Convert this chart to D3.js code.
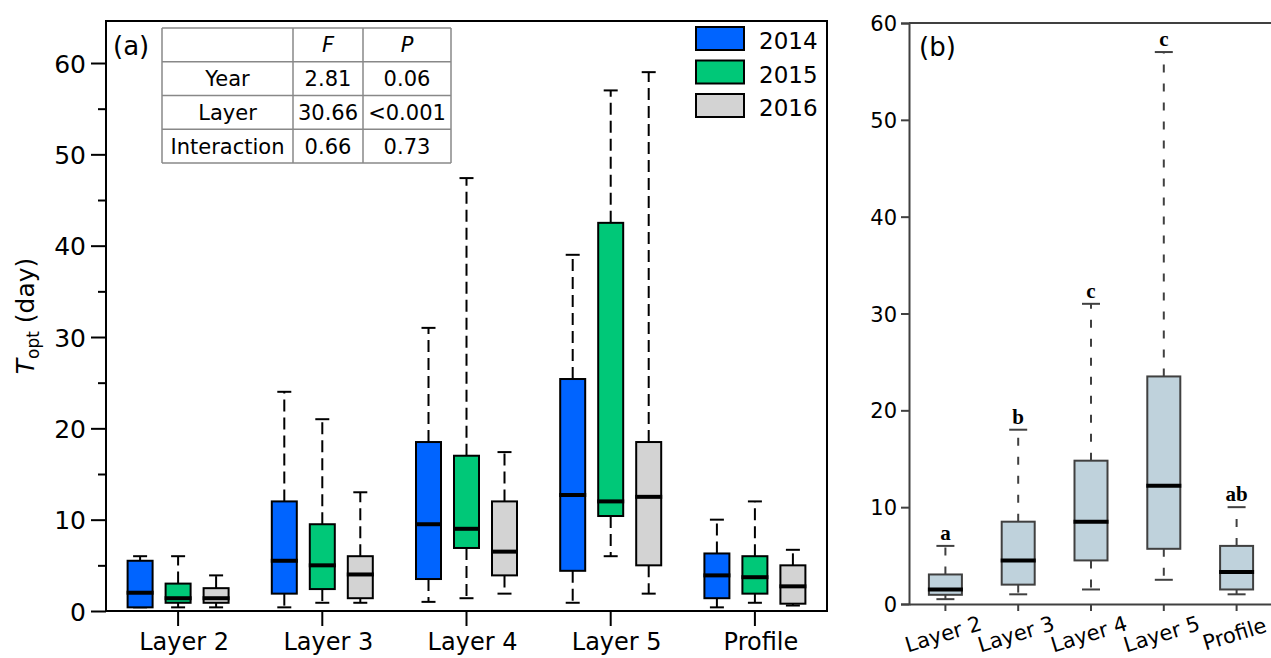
<!DOCTYPE html>
<html>
<head>
<meta charset="utf-8">
<script src="https://cdn.jsdelivr.net/npm/d3@7"></script>
<style>
  body { margin: 0; background: #fff; }
  svg text { font-family: "DejaVu Sans", sans-serif; fill: #000; }
</style>
</head>
<body>
<script>
// categories and groups
var categories = ["Layer 2", "Layer 3", "Layer 4", "Layer 5", "Profile"];
var years = ["2014", "2015", "2016"];
var yearColors = ["#0064ff", "#00c878", "#d3d3d3"];

// box stats per category: [lower whisker, q1, median, q3, upper whisker]
var stats2014 = [
  [0.4, 0.4, 2.0, 5.5, 6.0],
  [0.4, 1.9, 5.5, 12.0, 24.0],
  [1.0, 3.5, 9.5, 18.5, 31.0],
  [0.9, 4.4, 12.7, 25.4, 39.0],
  [0.4, 1.4, 3.9, 6.3, 10.0]
];
var stats2015 = [
  [0.4, 0.9, 1.4, 3.0, 6.0],
  [0.9, 2.4, 5.0, 9.5, 21.0],
  [1.4, 6.9, 9.0, 17.0, 47.4],
  [6.0, 10.4, 12.0, 42.5, 57.0],
  [0.9, 1.9, 3.7, 6.0, 12.0]
];
var stats2016 = [
  [0.4, 0.9, 1.4, 2.5, 3.9],
  [0.9, 1.4, 4.0, 6.0, 13.0],
  [1.9, 3.9, 6.5, 12.0, 17.4],
  [1.9, 5.0, 12.5, 18.5, 59.0],
  [0.6, 0.8, 2.7, 5.0, 6.7]
];
// pooled over years (panel b)
var statsPooled = [
  [0.5, 0.95, 1.5, 3.05, 6.0],
  [1.0, 2.0, 4.5, 8.5, 18.0],
  [1.5, 4.5, 8.5, 14.8, 31.0],
  [2.5, 5.7, 12.2, 23.5, 57.0],
  [1.0, 1.5, 3.3, 6.0, 10.0]
];
var groupLetters = ["a", "b", "c", "c", "ab"];

// anova table
var tableHead = ["", "F", "P"];
var tableTerms = ["Year", "Layer", "Interaction"];
var tableF = ["2.81", "30.66", "0.66"];
var tableP = ["0.06", "<0.001", "0.73"];

var yTicksA = [0, 10, 20, 30, 40, 50, 60];
var yMinorA = [5, 15, 25, 35, 45, 55];
var yTicksB = [0, 10, 20, 30, 40, 50, 60];

var svg = d3.select("body").append("svg")
  .attr("width", 1271)
  .attr("height", 658);

function drawBox(g, cx, s, y, o) {
  // whiskers
  g.append("line")
    .attr("x1", cx).attr("x2", cx)
    .attr("y1", y(s[3])).attr("y2", y(s[4]))
    .attr("stroke", o.stroke).attr("stroke-width", 2)
    .attr("stroke-dasharray", o.dash);
  g.append("line")
    .attr("x1", cx).attr("x2", cx)
    .attr("y1", y(s[1])).attr("y2", y(s[0]))
    .attr("stroke", o.stroke).attr("stroke-width", 2)
    .attr("stroke-dasharray", o.dash);
  [s[0], s[4]].forEach(function (v) {
    g.append("line")
      .attr("x1", cx - o.cap / 2).attr("x2", cx + o.cap / 2)
      .attr("y1", y(v)).attr("y2", y(v))
      .attr("stroke", o.stroke).attr("stroke-width", 2);
  });
  g.append("rect")
    .attr("x", cx - o.w / 2)
    .attr("y", y(s[3]))
    .attr("width", o.w)
    .attr("height", y(s[1]) - y(s[3]))
    .attr("fill", o.fill)
    .attr("stroke", o.stroke).attr("stroke-width", 2);
  g.append("line")
    .attr("x1", cx - o.w / 2 - 1).attr("x2", cx + o.w / 2 + 1)
    .attr("y1", y(s[2])).attr("y2", y(s[2]))
    .attr("stroke", "#000").attr("stroke-width", 4);
}

// ---------- panel (a) ----------
var a = { left: 106, right: 827, top: 21, bottom: 611 };

var xA = d3.scaleBand().domain(categories).range([a.left, a.right]);
var xSub = d3.scaleBand().domain(years).range([-57, 57]);
var yA = d3.scaleLinear().domain([0, 64.6]).range([a.bottom, a.top]);

var gA = svg.append("g");

var yAxisA = gA.append("g")
  .attr("transform", "translate(" + a.left + ",0)")
  .call(d3.axisLeft(yA).tickValues(yTicksA).tickSize(15).tickPadding(5));
yAxisA.select(".domain").remove();
yAxisA.selectAll("line").attr("stroke", "#000").attr("stroke-width", 2);
yAxisA.selectAll("text").attr("font-size", 25).attr("font-family", null).attr("dy", "0.36em");

var yMinor = gA.append("g")
  .attr("transform", "translate(" + a.left + ",0)")
  .call(d3.axisLeft(yA).tickValues(yMinorA).tickSize(8).tickFormat(""));
yMinor.select(".domain").remove();
yMinor.selectAll("line").attr("stroke", "#000").attr("stroke-width", 2);

var xAxisA = gA.append("g")
  .attr("transform", "translate(0," + a.bottom + ")")
  .call(d3.axisBottom(xA).tickSize(15));
xAxisA.select(".domain").remove();
xAxisA.selectAll("line").attr("stroke", "#000").attr("stroke-width", 2);
xAxisA.selectAll("text")
  .attr("font-size", 24).attr("font-family", null)
  .attr("y", 39).attr("dy", 0).attr("dx", 6);

// frame
gA.append("rect")
  .attr("x", a.left).attr("y", a.top)
  .attr("width", a.right - a.left).attr("height", a.bottom - a.top)
  .attr("fill", "none").attr("stroke", "#000").attr("stroke-width", 2);

var allYears = [stats2014, stats2015, stats2016];
categories.forEach(function (c, i) {
  years.forEach(function (yr, j) {
    var cx = xA(c) + xA.bandwidth() / 2 + xSub(yr) + xSub.bandwidth() / 2;
    drawBox(gA, cx, allYears[j][i], yA, {
      w: 25, cap: 14, fill: yearColors[j], stroke: "#000", dash: "12,6"
    });
  });
});

gA.append("text")
  .attr("x", 113).attr("y", 55)
  .attr("font-size", 26)
  .text("(a)");

// y title
var title = gA.append("text")
  .attr("transform", "translate(34," + ((a.top + a.bottom) / 2) + ") rotate(-90)")
  .attr("text-anchor", "middle")
  .attr("font-size", 25);
title.append("tspan").attr("font-style", "italic").text("T");
title.append("tspan").attr("font-size", 17).attr("dy", 5).text("opt");
title.append("tspan").attr("dy", -5).text(" (day)");

// legend
var legend = gA.append("g");
years.forEach(function (yr, j) {
  legend.append("rect")
    .attr("x", 696).attr("y", 27 + j * 33.5)
    .attr("width", 48).attr("height", 23)
    .attr("fill", yearColors[j])
    .attr("stroke", "#000").attr("stroke-width", 2);
  legend.append("text")
    .attr("x", 759).attr("y", 49 + j * 33.5)
    .attr("font-size", 23)
    .text(yr);
});

// table
var colX = [162, 293, 363, 451];
var rowH = 33.75, tableTop = 28;
var tbl = gA.append("g");
var rows = [tableHead].concat(tableTerms.map(function (t, i) {
  return [t, tableF[i], tableP[i]];
}));
rows.forEach(function (r, ri) {
  r.forEach(function (v, ci) {
    tbl.append("text")
      .attr("x", (colX[ci] + colX[ci + 1]) / 2)
      .attr("y", tableTop + ri * rowH + rowH / 2 + 7.5)
      .attr("text-anchor", "middle")
      .attr("font-size", 21)
      .attr("font-style", ri === 0 ? "italic" : null)
      .text(v);
  });
});
for (var k = 0; k <= rows.length; k++) {
  tbl.append("line")
    .attr("x1", colX[0]).attr("x2", colX[3])
    .attr("y1", tableTop + k * rowH).attr("y2", tableTop + k * rowH)
    .attr("stroke", "#888").attr("stroke-width", 1.5);
}
colX.forEach(function (cx) {
  tbl.append("line")
    .attr("x1", cx).attr("x2", cx)
    .attr("y1", tableTop).attr("y2", tableTop + rows.length * rowH)
    .attr("stroke", "#888").attr("stroke-width", 1.5);
});

// ---------- panel (b) ----------
var b = { left: 909, right: 1273, top: 23, bottom: 604 };
var axisGrey = "#404040";

var xB = d3.scaleBand().domain(categories).range([b.left, b.right]);
var yB = d3.scaleLinear().domain([0, 60]).range([b.bottom, b.top]);

var gB = svg.append("g");

var yAxisB = gB.append("g")
  .attr("transform", "translate(" + b.left + ",0)")
  .call(d3.axisLeft(yB).tickValues(yTicksB).tickSize(8).tickPadding(4));
yAxisB.select(".domain").attr("stroke", axisGrey).attr("stroke-width", 2);
yAxisB.selectAll("line").attr("stroke", axisGrey).attr("stroke-width", 2);
yAxisB.selectAll("text").attr("font-size", 21).attr("font-family", null).attr("dy", "0.36em");

var xAxisB = gB.append("g")
  .attr("transform", "translate(0," + b.bottom + ")")
  .call(d3.axisBottom(xB).tickSize(7).tickSizeOuter(0));
xAxisB.select(".domain").attr("stroke", axisGrey).attr("stroke-width", 2);
xAxisB.selectAll("line").attr("stroke", axisGrey).attr("stroke-width", 2);
xAxisB.selectAll("text")
  .attr("font-size", 21).attr("font-family", null)
  .attr("text-anchor", "middle")
  .attr("y", 0).attr("dy", 0)
  .attr("transform", "translate(0,37) rotate(-17)");

gB.append("line")
  .attr("x1", b.left).attr("x2", 1271)
  .attr("y1", b.top).attr("y2", b.top)
  .attr("stroke", axisGrey).attr("stroke-width", 2);

categories.forEach(function (c, i) {
  var cx = xB(c) + xB.bandwidth() / 2;
  drawBox(gB, cx, statsPooled[i], yB, {
    w: 33, cap: 18, fill: "#bfd2dc", stroke: axisGrey, dash: "8,11"
  });
  gB.append("text")
    .attr("x", cx).attr("y", yB(statsPooled[i][4]) - 6)
    .attr("text-anchor", "middle")
    .style("font-family", "'Liberation Serif', 'Times New Roman', serif")
    .attr("font-weight", "bold")
    .attr("font-size", 21)
    .text(groupLetters[i]);
});

gB.append("text")
  .attr("x", 919).attr("y", 56)
  .attr("font-size", 26)
  .text("(b)");
</script>
</body>
</html>
